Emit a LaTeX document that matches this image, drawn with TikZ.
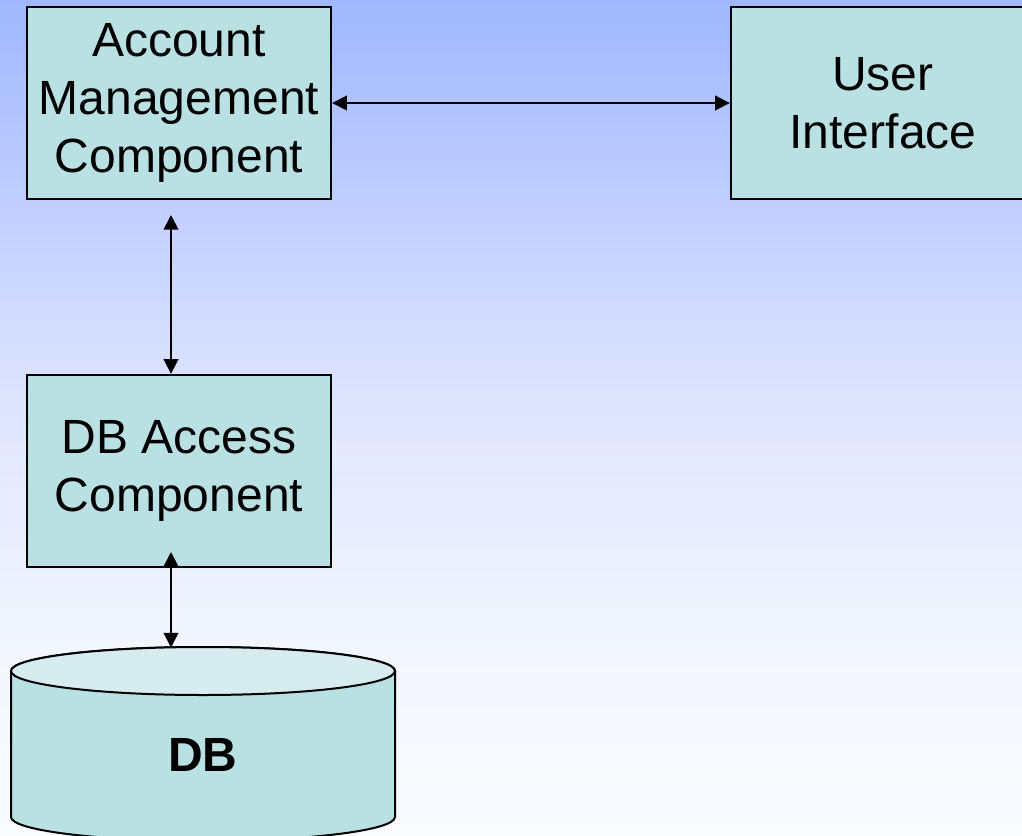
\documentclass[tikz,border=0pt]{standalone}
\usepackage{fontspec}
\setmainfont{Liberation Sans}
\usetikzlibrary{arrows.meta}
\definecolor{boxfill}{RGB}{185,224,227}
\definecolor{cyltop}{RGB}{214,236,238}
\pgfdeclareverticalshading{slidebg}{100bp}{%
  rgb(0bp)=(0.980,0.984,1.0);
  rgb(25bp)=(0.980,0.984,1.0);
  rgb(36.1bp)=(0.953,0.965,0.996);
  rgb(49.9bp)=(0.878,0.902,0.996);
  rgb(60.1bp)=(0.784,0.831,1.0);
  rgb(69bp)=(0.690,0.761,1.0);
  rgb(75bp)=(0.627,0.722,1.0);
  rgb(100bp)=(0.627,0.722,1.0)}
\tikzset{
  box/.style={draw=black, line width=1.8pt, fill=boxfill, minimum width=228pt, minimum height=144pt,
    inner sep=0pt, align=center, font={\fontsize{36}{43.5}\selectfont}},
  arr/.style={line width=1.4pt, {Triangle[length=11pt,width=11pt]}-{Triangle[length=11pt,width=11pt]}},
  cylbody/.style={draw=black, line width=1.5pt, fill=boxfill},
}
\begin{document}
\begin{tikzpicture}[x=0.75pt,y=-0.75pt]
\useasboundingbox (0,0) rectangle (1022,836);
\clip (0,0) rectangle (1022,836);
\shade[shading=slidebg] (0,0) rectangle (1022,836);
% boxes
\node[box] (am) at (179,103) {Account\\Management\\Component};
\node[box] (ui) at (883,103) {User\\Interface};
\node[box] (dba) at (179,471) {DB Access\\Component};
% cylinder
\path[cylbody] (11,671) -- (11,817) arc[start angle=180, end angle=360, x radius=144pt, y radius=18pt]
  -- (395,671) arc[start angle=0, end angle=180, x radius=144pt, y radius=18pt] -- cycle;
\draw[line width=1.5pt, fill=cyltop] (203,671) ellipse [x radius=144pt, y radius=18pt];
\node[font={\fontsize{36}{43}\selectfont\bfseries}] (db) at (203,755) {DB};
\coordinate (dbtop) at (171,647.5);
% connectors
\coordinate (amb) at (171,215);
\coordinate (dbab) at (171,552);
\draw[arr] (am.east) -- (ui.west);
\draw[arr] (amb) -- (amb |- dba.north);
\draw[arr] (dbab) -- (dbtop);
\end{tikzpicture}
\end{document}
